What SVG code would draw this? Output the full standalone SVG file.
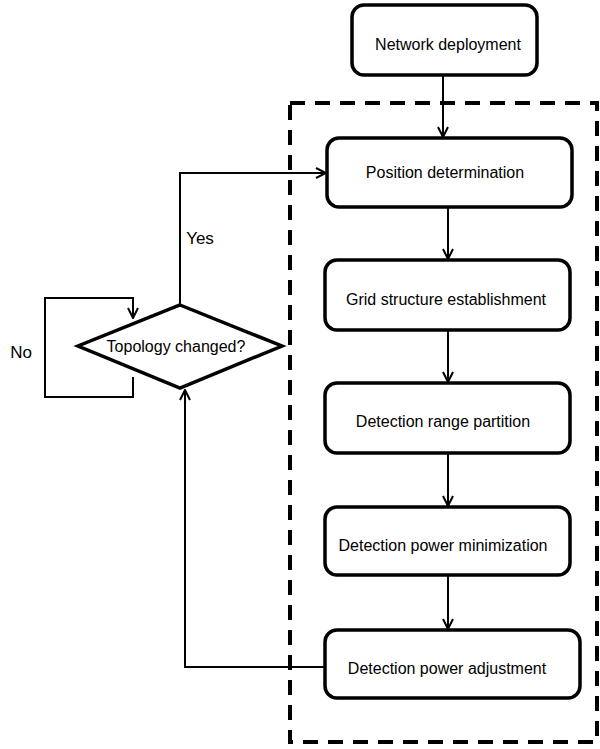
<svg xmlns="http://www.w3.org/2000/svg" width="600" height="749" viewBox="0 0 600 749">
<defs>
<marker id="ah" viewBox="0 0 12 12" refX="11" refY="6" markerWidth="12" markerHeight="12" markerUnits="userSpaceOnUse" orient="auto">
<path d="M1,1 L11,6 L1,11" fill="none" stroke="#000" stroke-width="2"/>
</marker>
<style>
.box{fill:#fff;stroke:#000;stroke-width:3.5}
.t{font-family:"Liberation Sans",Arial,sans-serif;font-size:16px;fill:#000;text-anchor:middle;dominant-baseline:central}
.c{fill:none;stroke:#000;stroke-width:2;marker-end:url(#ah)}
</style>
</defs>
<rect width="600" height="749" fill="#fff"/>
<rect id="frame" x="290" y="103" width="307" height="639" fill="none" stroke="#000" stroke-width="4" stroke-dasharray="15,10"/>
<g id="connectors">
<path class="c" d="M443,75 L443,137"/>
<path class="c" d="M448,207 L448,259"/>
<path class="c" d="M448,330 L448,382"/>
<path class="c" d="M448,453 L448,506"/>
<path class="c" d="M448,575 L448,629"/>
<path class="c" d="M325,667 L185,667 L185,390"/>
<path class="c" d="M180,305 L180,173 L326,173"/>
<path class="c" d="M133,377 L133,397 L45,397 L45,298 L133,298 L133,318"/>
</g>
<g id="n-network"><rect class="box" x="352" y="5" width="185" height="70" rx="12"/><text class="t" x="448" y="44">Network deployment</text></g>
<g id="n-position"><rect class="box" x="327" y="138" width="245" height="69" rx="12"/><text class="t" x="445" y="172">Position determination</text></g>
<g id="n-grid"><rect class="box" x="325" y="260" width="245" height="70" rx="12"/><text class="t" x="446" y="299">Grid structure establishment</text></g>
<g id="n-range"><rect class="box" x="325" y="383" width="245" height="70" rx="12"/><text class="t" x="443" y="421">Detection range partition</text></g>
<g id="n-min"><rect class="box" x="325" y="507" width="245" height="68" rx="12"/><text class="t" x="443" y="545">Detection power minimization</text></g>
<g id="n-adj"><rect class="box" x="325" y="630" width="255" height="68" rx="12"/><text class="t" x="447" y="668">Detection power adjustment</text></g>
<g id="n-topology"><polygon class="box" points="180,305 282,346 180,388 78,346"/><text class="t" x="176" y="346">Topology changed?</text></g>
<text class="t" x="200" y="238" style="font-size:17px">Yes</text>
<text class="t" x="21" y="352" style="font-size:17px">No</text>
</svg>
